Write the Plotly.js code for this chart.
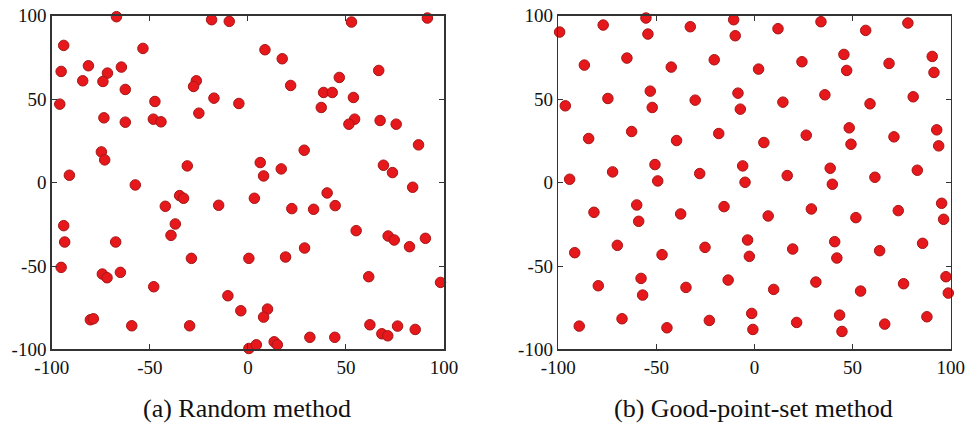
<!DOCTYPE html>
<html>
<head>
<meta charset="utf-8">
<script src="https://cdn.plot.ly/plotly-3.0.1.min.js"></script>
<style>
html,body{margin:0;padding:0;background:#fff;}
#chart{width:967px;height:423px;}
</style>
</head>
<body>
<div id="chart"></div>
<script>
// (a) Random method
const randX = [-67,-18.5,-9.5,-93.9,-53.5,-95.2,-81.3,-71.6,-64.5,-84.2,-73.9,-62.5,-26.3,-27.7,-17.3,-4.6,-95.9,-47.4,-73.4,-62.5,-48.2,-44.3,-25,-74.7,-73,-30.9,-91,-57.4,
 52.8,91.5,8.7,17.5,66.7,46.6,21.8,38.6,43,53.8,37.4,54.4,51.5,67.4,75.6,87,28.7,6.3,8,17,69.1,73.7,
 -34.8,-32.8,-42.1,-14.9,-93.9,-37,-39.2,-93.4,-67.4,-28.8,-95.2,-74.2,-71.8,-65,-48,-10.2,-80.3,-78.8,-59.2,-29.7,
 3.3,40.4,44.5,22.4,33.5,84,55.2,71.5,74.6,82.4,90.5,0.5,19.2,28.9,61.6,98.2,-3.6,10,8,62.2,68.3,71.3,76.3,85.3,31.6,44.3,13.4,15,0.5,4.3];
const randY = [99.4,97.6,96.6,82.2,80.4,66.6,70,65.6,69.2,61,60.6,55.8,61,57.6,50.6,47.4,47,48.6,38.8,36.2,38,36.4,41.6,18.4,13.6,10,4.4,-1.4,
 96.2,98.6,79.6,74.2,67.2,63,58.2,54,54,51,45,38,35,37.2,35,22.6,19.4,12,4,8.2,10.4,6,
 -7.8,-9.4,-14.2,-13.6,-25.8,-24.8,-31.6,-35.6,-35.6,-45.4,-50.8,-54.8,-57,-53.8,-62.4,-67.8,-82.2,-81.6,-85.8,-85.8,
 -9.4,-6.2,-13.8,-15.6,-16,-2.8,-28.8,-32,-34.4,-38.4,-33.4,-45.4,-44.6,-39.2,-56.4,-59.8,-76.8,-75.8,-80.6,-85.2,-90.6,-91.8,-86,-88,-92.7,-92.7,-95.4,-97.2,-99.4,-97.2];

// (b) Good-point-set method
const goodX = [-55.3,-77.1,-99.3,-54.3,-32.7,-10.6,-9.8,-86.7,-65,-42.4,-20.5,-53.1,-52.1,-96.4,-74.7,-30.2,-8.4,-7.2,-84.5,-62.6,-39.7,-18.2,-50.7,-49.3,-72.3,-94.2,-27.9,-6,-4.8,
 12,33.9,56.7,78.2,2.1,24.2,45.6,47,68.6,90.6,91.5,14.5,35.9,58.9,80.9,4.8,26.4,48.3,49.2,71.1,92.9,93.9,16.7,38.6,39.7,61.4,83,
 -81.8,-60,-59,-37.6,-15.5,-3.5,-2.6,-91.6,-69.9,-47.1,-25.2,-79.6,-57.8,-57,-34.9,-13.4,-1.4,-0.8,-89.3,-67.5,-44.6,-23,
 7,29,51.7,73.3,95.4,96.4,19.5,40.9,42,63.8,85.7,9.8,31.3,54.1,76,97.6,98.8,21.5,43.4,44.6,66.4,87.9];
const goodY = [98.6,94.4,90.2,89,93.4,97.6,88,70.4,74.6,69.2,73.6,54.8,45,46,50.4,49.4,53.6,44,26.4,30.6,25.2,29.4,10.8,1,6.4,2,5.4,10,0.2,
 92.2,96.4,91.2,95.6,68,72.4,76.8,67.2,71.4,75.6,66,48.2,52.6,47.2,51.4,24,28.4,32.8,23,27.4,31.6,22,4.2,8.6,-1,3.2,7.4,
 -17.8,-13.4,-23.2,-18.8,-14.4,-34.4,-44.2,-42,-37.6,-43.2,-38.8,-61.8,-57.4,-67.4,-62.8,-58.4,-78.4,-88,-86,-81.6,-87,-82.6,
 -20,-15.8,-21,-16.8,-12.4,-22,-39.8,-35.4,-45.2,-40.8,-36.4,-64,-59.6,-65,-60.6,-56.4,-66.2,-83.8,-79.4,-89.2,-84.8,-80.4];

const tickVals = [-100,-50,0,50,100];
const tickText = ["-100","-50","0","50","100"];
const captions = ["(a) Random method","(b) Good-point-set method"];

const marker = {size:10.5, color:'rgb(230,24,28)', line:{color:'rgb(165,22,22)', width:1}};

const traces = [
  {type:'scatter', mode:'markers', x:randX, y:randY, xaxis:'x', yaxis:'y', marker:marker, cliponaxis:false, hoverinfo:'x+y'},
  {type:'scatter', mode:'markers', x:goodX, y:goodY, xaxis:'x2', yaxis:'y2', marker:marker, cliponaxis:false, hoverinfo:'x+y'}
];

const serif = 'Liberation Serif, Times New Roman, serif';
const tickFont = {family:serif, size:19, color:'#111'};
function ax(domain, anchor){
  return {domain:domain, anchor:anchor, range:[-100,100], tickvals:tickVals, ticktext:tickText,
    ticks:'inside', ticklen:5, tickwidth:1, tickcolor:'#333', showline:true, linecolor:'#333', linewidth:1.5,
    mirror:'ticks', showgrid:false, zeroline:false, tickfont:tickFont, fixedrange:true};
}

const layout = {
  width:967, height:423, margin:{l:0,r:0,t:0,b:0},
  paper_bgcolor:'#fff', plot_bgcolor:'#fff', showlegend:false,
  font:{family:serif},
  xaxis: ax([0.0535,0.4592],'y'),
  yaxis: ax([0.1738,0.9629],'x'),
  xaxis2: ax([0.5773,0.9831],'y2'),
  yaxis2: ax([0.1738,0.9629],'x2'),
  annotations: [
    {text:captions[0], xref:'paper', yref:'paper', x:0.2551, y:0.035, xanchor:'center', yanchor:'middle', showarrow:false,
     font:{family:serif, size:26, color:'#111'}},
    {text:captions[1], xref:'paper', yref:'paper', x:0.7795, y:0.035, xanchor:'center', yanchor:'middle', showarrow:false,
     font:{family:serif, size:26, color:'#111'}}
  ]
};

Plotly.newPlot('chart', traces, layout, {displayModeBar:false, staticPlot:true});
</script>
</body>
</html>
